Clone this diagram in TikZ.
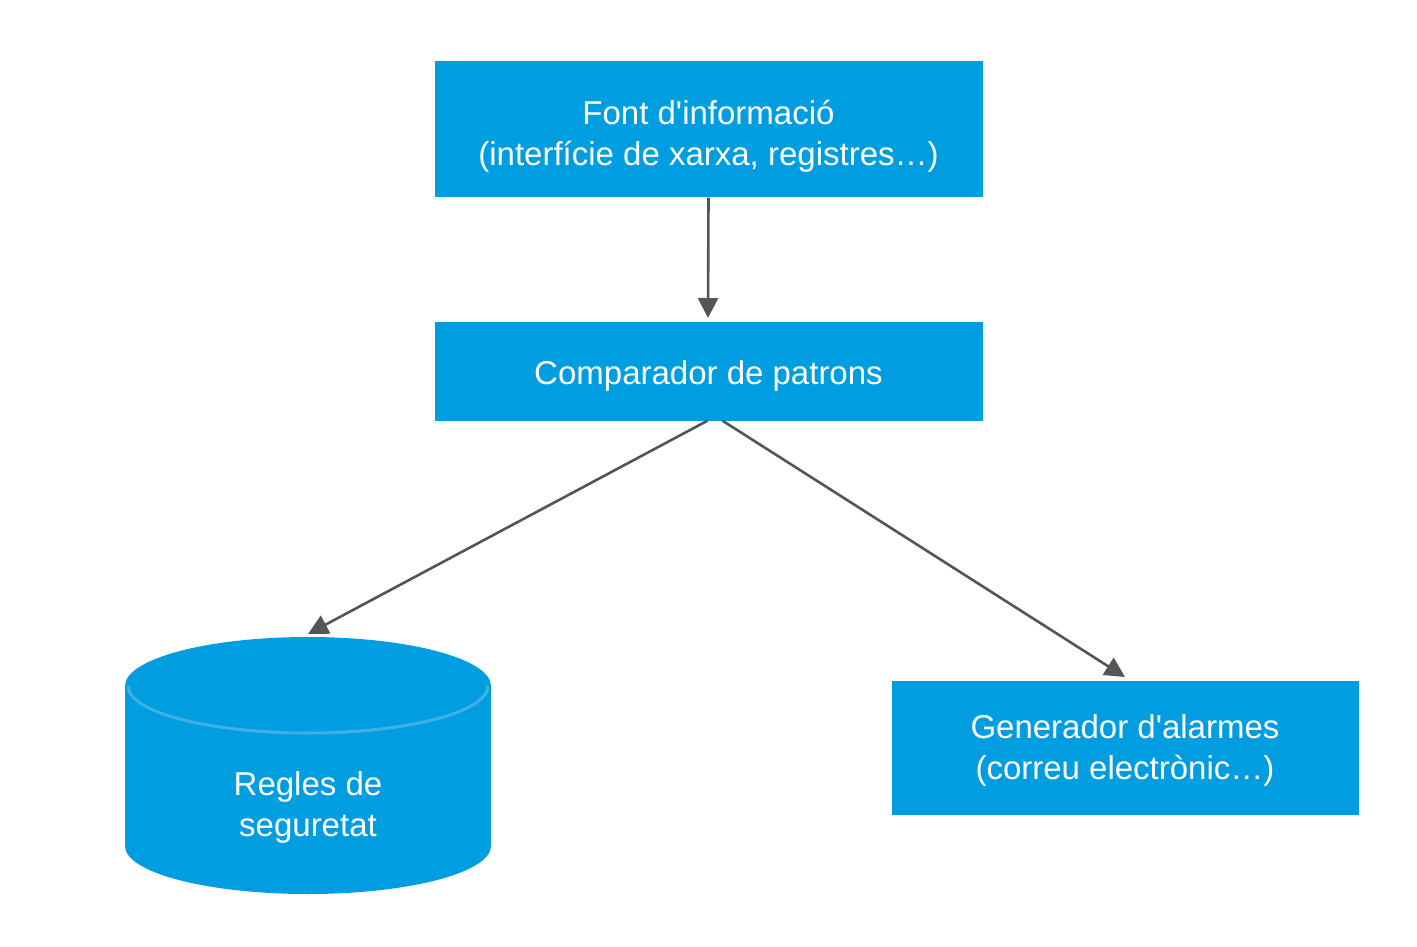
\documentclass[tikz,border=0pt]{standalone}
\usepackage{fontspec}
\setmainfont[Ligatures=TeXOff]{Liberation Sans}
\usetikzlibrary{arrows.meta}
\definecolor{boxblue}{HTML}{009EE0}
\definecolor{rimblue}{HTML}{40B0E4}
\definecolor{arrowgray}{HTML}{555555}
\begin{document}
\begin{tikzpicture}[x=1pt,y=-1pt,
  bluebox/.style={fill=boxblue,draw=none,inner sep=0pt},
  label/.style={text=white,align=center,font=\fontsize{33}{41}\selectfont},
  conn/.style={draw=arrowgray,line width=2.6pt,-{Triangle[length=20pt,width=20pt]}}]
\useasboundingbox (0,0) rectangle (1417,947);
% boxes
\node[bluebox,minimum width=548pt,minimum height=136pt] (src) at (708.5,129.5) {};
\node[label] (srctext) at (708.5,136) {Font d'informació\\(interfície de xarxa, registres…)};
\node[bluebox,minimum width=548pt,minimum height=99pt] (cmp) at (708.5,371) {};
\node[label] (cmptext) at (708.5,376) {Comparador de patrons};
\node[bluebox,minimum width=467pt,minimum height=134pt] (gen) at (1125,747.5) {};
\node[label] (gentext) at (1125,750) {Generador d'alarmes\\(correu electrònic…)};
% cylinder
\fill[boxblue] (125,686) -- (125,846) arc[start angle=180,end angle=0,x radius=183,y radius=48] -- (491,686) arc[start angle=0,end angle=-180,x radius=183,y radius=49] -- cycle;
\draw[rimblue,line width=3pt] (128,686) arc[start angle=180,end angle=0,x radius=180,y radius=47];
\node[label] (rules) at (308,807) {Regles de\\seguretat};
\coordinate (rulestop) at (308,634);
\coordinate (gentop) at (1125,677);
% connectors
\draw[conn] (src.south) -- (708,318);
\draw[conn] ([xshift=-1pt]cmp.south) -- (rulestop);
\draw[conn] ([xshift=14pt]cmp.south) -- (gentop);
\end{tikzpicture}
\end{document}
